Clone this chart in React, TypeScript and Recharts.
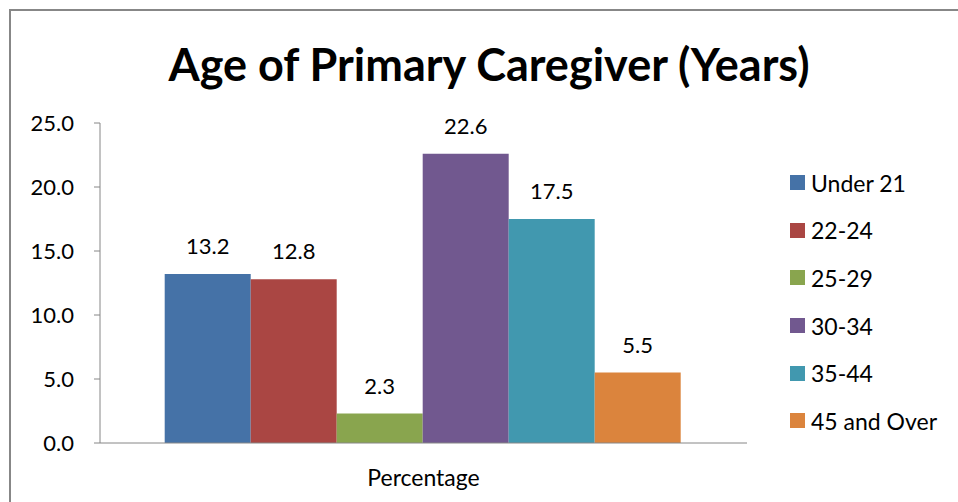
import { BarChart, Bar, XAxis, YAxis, LabelList } from 'recharts';

const categories = ['Percentage'];
const seriesNames = ['Under 21', '22-24', '25-29', '30-34', '35-44', '45 and Over'];
const seriesValues = [13.2, 12.8, 2.3, 22.6, 17.5, 5.5];
const yTicks = [0, 5, 10, 15, 20, 25];
const COLORS = ['#4572A7', '#AA4643', '#89A54E', '#71588F', '#4198AF', '#DB843D'];

const FONT = 'Lato, "Open Sans", sans-serif';

const data = categories.map((c) => {
  const row: Record<string, string | number> = { name: c };
  seriesNames.forEach((s, i) => {
    row[s] = seriesValues[i];
  });
  return row;
});

function LegendBox() {
  return (
    <div style={{ fontFamily: FONT, fontSize: 23, color: '#000' }}>
      {seriesNames.map((s, i) => (
        <div key={s} style={{ display: 'flex', alignItems: 'center', height: 47.6 }}>
          <span style={{ width: 15, height: 15, background: COLORS[i], marginRight: 6 }} />
          <span>{s}</span>
        </div>
      ))}
    </div>
  );
}

export default function App() {
  return (
    <div style={{ position: 'absolute', left: 0, top: 0, width: 958, height: 502, overflow: 'hidden', background: '#fff' }}>
      {/* outer chart border */}
      <div
        style={{
          position: 'absolute',
          left: 9,
          top: 9,
          width: 1000,
          height: 600,
          border: '2px solid #878787',
        }}
      />
      <div
        style={{
          position: 'absolute',
          left: 0,
          width: 978,
          top: 36,
          textAlign: 'center',
          fontFamily: FONT,
          fontWeight: 'bold',
          fontSize: 45,
          lineHeight: '56px',
          color: '#000',
        }}
      >
        Age of Primary Caregiver (Years)
      </div>
      <div style={{ position: 'absolute', left: 0, top: 0 }}>
        <BarChart
          width={958}
          height={502}
          data={data}
          margin={{ top: 123, right: 211, bottom: 19, left: 40 }}
          barCategoryGap="10%"
          barGap={0}
        >
          <XAxis
            dataKey="name"
            height={40}
            stroke="#868686"
            tickLine={false}
            tick={{ fill: '#000', fontSize: 23, fontFamily: FONT }}
            tickMargin={21}
          />
          <YAxis
            width={60}
            domain={[0, 25]}
            ticks={yTicks}
            interval={0}
            stroke="#868686"
            tickSize={6}
            tickMargin={20}
            tickFormatter={(v: number) => v.toFixed(1)}
            tick={{ fill: '#000', fontSize: 22, fontFamily: FONT }}
          />
          {seriesNames.map((s, i) => (
            <Bar key={s} dataKey={s} fill={COLORS[i]} isAnimationActive={false}>
              <LabelList
                dataKey={s}
                position="top"
                offset={20}
                formatter={(v: number) => v.toFixed(1)}
                style={{ fill: '#000', fontSize: 22, fontFamily: FONT }}
              />
            </Bar>
          ))}
        </BarChart>
      </div>
      <div style={{ position: 'absolute', left: 790, top: 159 }}>
        <LegendBox />
      </div>
    </div>
  );
}
